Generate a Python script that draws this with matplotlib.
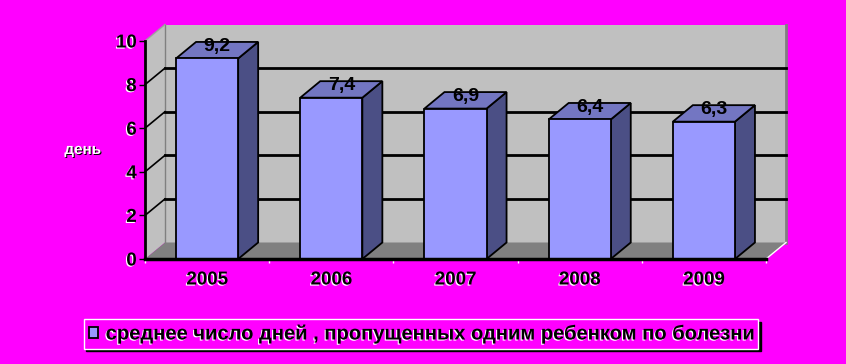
import matplotlib
matplotlib.use("Agg")
import matplotlib.pyplot as plt
import matplotlib.patheffects as pe
from matplotlib.patches import Polygon
import numpy as np

plt.rcParams['font.family'] = ['Liberation Sans', 'DejaVu Sans']

# ---- data ----
years = ['2005', '2006', '2007', '2008', '2009']
values = [9.2, 7.4, 6.9, 6.4, 6.3]
value_labels = ['9,2', '7,4', '6,9', '6,4', '6,3']
y_ticks = [0, 2, 4, 6, 8, 10]
y_label = 'день'
series_name = 'среднее число дней , пропущенных одним ребенком по болезни'

# ---- style ----
BG = '#FF00FF'
WALL = '#C0C0C0'
FLOOR = '#808080'
FRONT = '#9999FF'
SIDE = '#4B4F85'
TOP = '#7376C2'

W, H, DPI = 846, 364, 100
fig = plt.figure(figsize=(W / DPI, H / DPI), dpi=DPI, facecolor=BG)
ax = fig.add_axes([145 / W, (H - 259) / H, 621 / W, 218 / H])
ax.patch.set_visible(False)
ax.set_xlim(-0.5, 4.5)
ax.set_ylim(0, 10)

# depth offset in data units (about 20 px right, 16.5 px up)
ddx = 20 / (621 / 5)
ddy = 16.5 / (218 / 10)
x = np.arange(len(years))
bw = 0.5
x0, x1 = -0.5, len(years) - 0.5
ymax = 10

# back wall
ax.add_patch(Polygon([(x0 + ddx, ddy), (x1 + ddx, ddy), (x1 + ddx, ymax + ddy), (x0 + ddx, ymax + ddy)],
                     closed=True, facecolor=WALL, edgecolor='none', zorder=0.5, clip_on=False))
# left wall
ax.add_patch(Polygon([(x0, 0), (x0 + ddx, ddy), (x0 + ddx, ymax + ddy), (x0, ymax)],
                     closed=True, facecolor=WALL, edgecolor='none', zorder=0.5, clip_on=False))
# floor
ax.add_patch(Polygon([(x0, 0), (x1, 0), (x1 + ddx, ddy), (x0 + ddx, ddy)],
                     closed=True, facecolor=FLOOR, edgecolor='none', zorder=0.6, clip_on=False))
# wall edges
ax.plot([x0 + ddx, x0 + ddx], [ddy, ymax + ddy], color='#808080', lw=1, zorder=0.7, clip_on=False)
ax.plot([x1 + ddx, x1 + ddx], [ddy, ymax + ddy], color='#808080', lw=2, zorder=0.7, clip_on=False)
ax.plot([x0, x0 + ddx], [ymax, ymax + ddy], color='#A0A0A0', lw=1, zorder=0.7, clip_on=False)
ax.plot([x1, x1 + ddx], [0, ddy], color='white', lw=1, zorder=0.7, clip_on=False)

# gridlines on back wall and left wall
for v in y_ticks[1:-1]:
    ax.plot([x0 + ddx, x1 + ddx], [v + ddy, v + ddy], color='black', lw=2, zorder=0.8, clip_on=False)
    ax.plot([x0, x0 + ddx], [v, v + ddy], color='black', lw=1.2, zorder=0.8, clip_on=False)

# bars
bars = ax.bar(x, values, width=bw, color=FRONT, edgecolor='black', linewidth=1.3, zorder=3,
              label=series_name)
for xi, v, lab in zip(x, values, value_labels):
    r = xi + bw / 2
    l = xi - bw / 2
    ax.add_patch(Polygon([(r, 0), (r + ddx, ddy), (r + ddx, v + ddy), (r, v)], closed=True,
                         facecolor=SIDE, edgecolor='black', lw=1.3, zorder=2.9, clip_on=False))
    ax.add_patch(Polygon([(l, v), (r, v), (r + ddx, v + ddy), (l + ddx, v + ddy)], closed=True,
                         facecolor=TOP, edgecolor='black', lw=1.3, zorder=2.9, clip_on=False))
    ax.annotate(lab, (xi + ddx / 2, v + ddy / 2), xytext=(0, 3), textcoords='offset points',
                ha='center', va='center', fontsize=14, fontweight='bold', color='black', zorder=5)

# axes lines
for s in ['top', 'right']:
    ax.spines[s].set_visible(False)
ax.spines['left'].set_linewidth(2)
ax.spines['bottom'].set_linewidth(2.5)
ax.spines['left'].set_zorder(4)
ax.spines['bottom'].set_zorder(4)

shadow_w = [pe.withSimplePatchShadow(offset=(-0.8, -0.8), shadow_rgbFace='white', alpha=1)]

ax.set_yticks(y_ticks)
ax.set_yticklabels([str(t) for t in y_ticks], fontsize=13.5, fontweight='bold', path_effects=shadow_w)
ax.tick_params(axis='y', direction='out', length=4, width=1, color='black', pad=2)

ax.set_xticks(x)
ax.set_xticklabels(years, fontsize=13.5, fontweight='bold', path_effects=shadow_w)
ax.tick_params(axis='x', which='major', length=0, pad=9)
ax.set_xticks(np.arange(x0, x1 + 0.01, 1), minor=True)
ax.tick_params(axis='x', which='minor', direction='out', length=3, width=1, color='white')

ax.set_ylabel(y_label, rotation=0, fontsize=11, fontweight='bold', color='white',
              path_effects=[pe.withSimplePatchShadow(offset=(0.7, -0.7), shadow_rgbFace='black', alpha=1)])
ax.yaxis.set_label_coords(-0.1, 0.5)
ax.yaxis.label.set_ha('center')
ax.yaxis.label.set_va('center')

leg = ax.legend(handles=[bars], labels=[series_name], loc='center',
                bbox_to_anchor=(421 / W, 1 - 334 / H), bbox_transform=fig.transFigure,
                prop={'weight': 'bold', 'size': 14.5}, frameon=True, fancybox=False,
                handlelength=0.45, handleheight=0.45, handletextpad=0.4, borderpad=0.25,
                borderaxespad=0, shadow={'color': 'black', 'alpha': 1})
leg.get_frame().set_facecolor(BG)
leg.get_frame().set_edgecolor('white')
leg.get_frame().set_linewidth(1)
for t in leg.get_texts():
    t.set_path_effects(shadow_w)

fig.savefig('out.png', dpi=DPI, facecolor=BG)
